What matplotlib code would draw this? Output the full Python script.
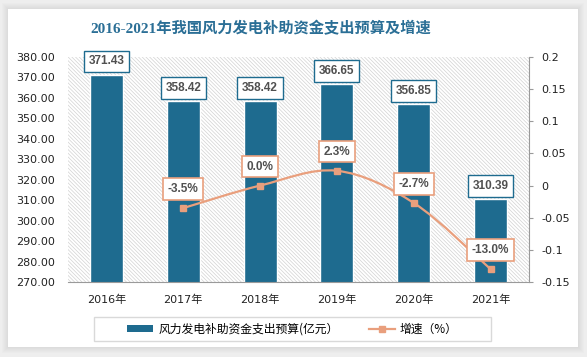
import matplotlib.pyplot as plt
import numpy as np
from matplotlib.patches import Rectangle, PathPatch, Patch
from matplotlib.path import Path
from matplotlib.lines import Line2D

years = ['2016年', '2017年', '2018年', '2019年', '2020年', '2021年']
budget = [371.43, 358.42, 358.42, 366.65, 356.85, 310.39]
growth_idx = [1, 2, 3, 4, 5]
growth = [-0.035, 0.0, 0.023, -0.027, -0.130]
growth_labels = ['-3.5%', '0.0%', '2.3%', '-2.7%', '-13.0%']
left_ticks = [270, 280, 290, 300, 310, 320, 330, 340, 350, 360, 370, 380]
right_ticks = [-0.15, -0.1, -0.05, 0, 0.05, 0.1, 0.15, 0.2]
right_labels = ['-0.15', '-0.1', '-0.05', '0', '0.05', '0.1', '0.15', '0.2']

bar_color = '#1e6b8f'
line_color = '#e99f7d'
sans = ['DejaVu Sans', 'Noto Sans CJK SC']
plt.rcParams['hatch.linewidth'] = 0.5

fig = plt.figure(figsize=(5.87, 3.57), dpi=100)
fig.patch.set_facecolor('#eeeeee')

# white card with a soft shadow
cx, cy, cw, ch = 8 / 587, 10 / 357, 570 / 587, 338 / 357
for i in range(6, 0, -1):
    dx, dy = i / 587, i / 357
    fig.patches.append(Rectangle((cx - dx, cy - dy), cw + 2 * dx, ch + 2 * dy,
                                 transform=fig.transFigure, facecolor='black',
                                 alpha=0.012, lw=0, zorder=-3))
fig.patches.append(Rectangle((cx, cy), cw, ch, transform=fig.transFigure,
                             facecolor='white', lw=0, zorder=-2))

ax = fig.add_axes([68 / 587, 1 - 282 / 357, 461 / 587, 225 / 357])
ax.set_facecolor('none')
ax.add_patch(Rectangle((0, 0), 1, 1, transform=ax.transAxes, facecolor='white',
                       edgecolor='#d2d2d2', hatch='\\' * 9, lw=0, zorder=0))

x = np.arange(len(years))
ax.bar(x, budget, width=0.43, color=bar_color, edgecolor='white', linewidth=1, zorder=2)
ax.set_xlim(-0.5, 5.5)
ax.set_ylim(270, 380)
ax.set_yticks(left_ticks)
ax.set_yticklabels([f'{v:.2f}' for v in left_ticks], family=sans, fontsize=8, color='#222222')
ax.set_xticks(x)
ax.set_xticklabels(years, family=sans, fontsize=8, color='#222222')
ax.tick_params(axis='y', length=0, pad=9.5)
ax.tick_params(axis='x', length=0, pad=9)
for s in ['left', 'right', 'top']:
    ax.spines[s].set_visible(False)
ax.spines['bottom'].set_color('#9a9a9a')
ax.spines['bottom'].set_zorder(3)

for i, v in enumerate(budget):
    ax.annotate(f'{v:.2f}', (i, v), xytext=(0, 9.5), textcoords='offset points',
                ha='center', va='center', fontsize=8.5, fontweight='bold',
                family='Liberation Sans', color='#505050', zorder=5, annotation_clip=False,
                bbox=dict(boxstyle='square,pad=0.4', fc='white', ec=bar_color, lw=1))

ax2 = ax.twinx()
ax2.set_ylim(-0.15, 0.2)
ax2.set_yticks(right_ticks)
ax2.set_yticklabels(right_labels, family=sans, fontsize=8, color='#222222')
ax2.tick_params(axis='y', length=3, pad=6, color='#9a9a9a')
for s in ['left', 'top', 'bottom']:
    ax2.spines[s].set_visible(False)
ax2.spines['right'].set_color('#9a9a9a')

# smooth line through the growth points (Catmull-Rom as cubic Bezier)
pts = np.column_stack([growth_idx, growth]).astype(float)
ext = np.vstack([pts[0], pts, pts[-1]])
verts = [tuple(pts[0])]
codes = [Path.MOVETO]
for k in range(1, len(ext) - 2):
    p0, p1, p2, p3 = ext[k - 1], ext[k], ext[k + 1], ext[k + 2]
    verts += [tuple(p1 + (p2 - p0) / 6), tuple(p2 - (p3 - p1) / 6), tuple(p2)]
    codes += [Path.CURVE4] * 3
ax2.add_patch(PathPatch(Path(verts, codes), fc='none', ec=line_color, lw=1.6, zorder=3))
ax2.plot(growth_idx, growth, 's', color=line_color, markersize=4.5, zorder=4)

for i, v, lab in zip(growth_idx, growth, growth_labels):
    ax2.annotate(lab, (i, v), xytext=(0, 13.7), textcoords='offset points',
                 ha='center', va='center', fontsize=8.5, fontweight='bold',
                 family='Liberation Sans', color='#505050', zorder=6,
                 bbox=dict(boxstyle='square,pad=0.4', fc='white', ec=line_color, lw=1.2))

fig.text(261 / 587, 1 - 29 / 357, '2016-2021年我国风力发电补助资金支出预算及增速',
         ha='center', va='center', fontsize=11, fontweight='bold', color='#2b6f96',
         family=['Liberation Serif', 'Noto Sans CJK SC'])

# legend
fig.patches.append(Rectangle((94 / 587, 1 - 341 / 357), 397 / 587, 24 / 357,
                             transform=fig.transFigure, fc='white', ec='#d9d9d9', lw=1))
handles = [Patch(facecolor=bar_color, edgecolor='none'),
           Line2D([], [], color=line_color, lw=1.6, marker='s', markersize=4.5)]
fig.legend(handles, ['风力发电补助资金支出预算(亿元）', '增速（%）'], loc='center',
           bbox_to_anchor=(292.5 / 587, 1 - 329 / 357), ncol=2, frameon=False,
           prop={'family': 'Noto Sans CJK SC', 'size': 8.5}, handlelength=2.2,
           handleheight=0.5, handletextpad=0.4, columnspacing=2.6)

fig.savefig('out.png', dpi=100, facecolor=fig.get_facecolor())
